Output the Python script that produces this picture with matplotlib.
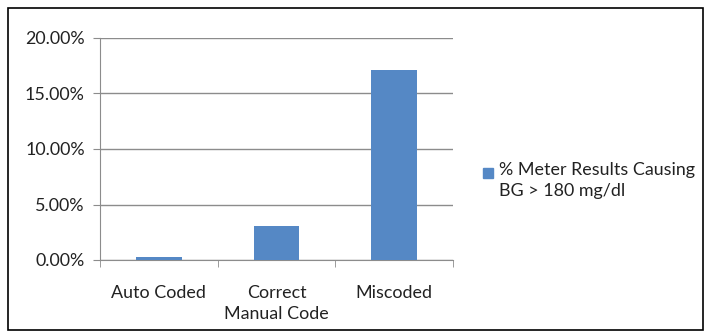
import numpy as np
import matplotlib.pyplot as plt
from matplotlib.patches import Rectangle
from matplotlib.ticker import FuncFormatter, FixedLocator

# Data
categories = ['Auto Coded', 'Correct\nManual Code', 'Miscoded']
values = [0.30, 3.10, 17.15]  # percent
series_name = '% Meter Results Causing\nBG > 180 mg/dl'
y_ticks = [0, 5, 10, 15, 20]

plt.rcParams['font.family'] = ['Lato', 'DejaVu Sans']

fig = plt.figure(figsize=(7.07, 3.32), dpi=100)
W, H = 707, 332
bar_color = '#5588C5'
fs = 12.9

# Outer chart border
fig.patches.append(Rectangle((8 / W, 1 - 330 / H), 695 / W, 322 / H,
                             transform=fig.transFigure, fill=False,
                             edgecolor='black', linewidth=1.2))

ax = fig.add_axes([100 / W, 1 - 260 / H, 353 / W, 222 / H])

x = np.arange(len(categories))
ax.bar(x, values, width=0.39, color=bar_color, zorder=3)

ax.set_xlim(-0.5, len(categories) - 0.5)
ax.set_ylim(0, 20)
ax.set_yticks(y_ticks)
ax.yaxis.set_major_formatter(FuncFormatter(lambda v, p: f'{v:.2f}%'))
ax.yaxis.grid(True, color='#8c8c8c', linewidth=1, zorder=0)

# Category labels centred under bars, tick marks on the category boundaries
ax.set_xticks(x)
ax.set_xticklabels(categories, fontsize=fs, color='#222222', linespacing=1.38)
ax.xaxis.set_minor_locator(FixedLocator(np.arange(-0.5, len(categories), 1)))
ax.tick_params(axis='x', which='major', length=0, pad=18)
ax.tick_params(axis='x', which='minor', length=5, color='#8c8c8c')
ax.tick_params(axis='y', length=5, color='#8c8c8c', labelsize=fs,
               labelcolor='#222222', pad=6)

for s in ['top', 'right']:
    ax.spines[s].set_visible(False)
for s in ['left', 'bottom']:
    ax.spines[s].set_color('#8c8c8c')

# Legend: marker aligned with the first line of text (Excel style)
fig.patches.append(Rectangle((483 / W, 1 - 178 / H), 10 / W, 10 / H,
                             transform=fig.transFigure, color=bar_color))
fig.text(499 / W, 1 - 162 / H, series_name, fontsize=fs, color='#222222',
         va='top', ha='left', linespacing=1.38)

fig.savefig('out.png', dpi=100)
